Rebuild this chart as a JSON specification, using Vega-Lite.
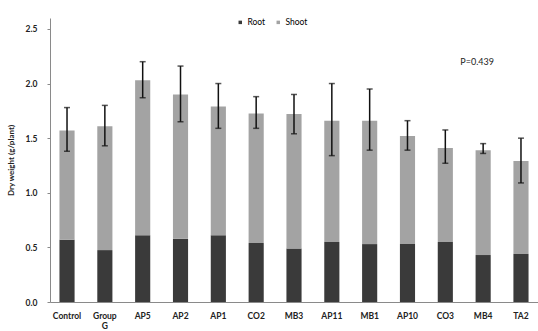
{
  "$schema": "https://vega.github.io/schema/vega-lite/v6.json",
  "autosize": {"type": "none"},
  "padding": {"left": 50, "top": 18, "right": 0, "bottom": 29},
  "width": 488,
  "height": 284,
  "background": "white",
  "config": {
    "font": "Lato",
    "view": {"stroke": null},
    "axis": {"grid": false, "domainColor": "#8a8a8a", "tickColor": "#8a8a8a", "labelColor": "#222", "titleColor": "#222", "labelFont": "Lato", "titleFont": "Lato"}
  },
  "datasets": {
    "parts": [
      {"cat": "Control", "part": "Root", "value": 0.57},
      {"cat": "Control", "part": "Shoot", "value": 1.0},
      {"cat": "Group G", "part": "Root", "value": 0.475},
      {"cat": "Group G", "part": "Shoot", "value": 1.135},
      {"cat": "AP5", "part": "Root", "value": 0.61},
      {"cat": "AP5", "part": "Shoot", "value": 1.42},
      {"cat": "AP2", "part": "Root", "value": 0.58},
      {"cat": "AP2", "part": "Shoot", "value": 1.32},
      {"cat": "AP1", "part": "Root", "value": 0.61},
      {"cat": "AP1", "part": "Shoot", "value": 1.18},
      {"cat": "CO2", "part": "Root", "value": 0.54},
      {"cat": "CO2", "part": "Shoot", "value": 1.185},
      {"cat": "MB3", "part": "Root", "value": 0.49},
      {"cat": "MB3", "part": "Shoot", "value": 1.23},
      {"cat": "AP11", "part": "Root", "value": 0.55},
      {"cat": "AP11", "part": "Shoot", "value": 1.11},
      {"cat": "MB1", "part": "Root", "value": 0.53},
      {"cat": "MB1", "part": "Shoot", "value": 1.13},
      {"cat": "AP10", "part": "Root", "value": 0.53},
      {"cat": "AP10", "part": "Shoot", "value": 0.99},
      {"cat": "CO3", "part": "Root", "value": 0.55},
      {"cat": "CO3", "part": "Shoot", "value": 0.86},
      {"cat": "MB4", "part": "Root", "value": 0.43},
      {"cat": "MB4", "part": "Shoot", "value": 0.96},
      {"cat": "TA2", "part": "Root", "value": 0.44},
      {"cat": "TA2", "part": "Shoot", "value": 0.85}
    ],
    "err": [
      {"cat": "Control", "lo": 1.38, "hi": 1.78},
      {"cat": "Group G", "lo": 1.43, "hi": 1.8},
      {"cat": "AP5", "lo": 1.87, "hi": 2.2},
      {"cat": "AP2", "lo": 1.65, "hi": 2.16},
      {"cat": "AP1", "lo": 1.59, "hi": 2.0},
      {"cat": "CO2", "lo": 1.59, "hi": 1.88},
      {"cat": "MB3", "lo": 1.54, "hi": 1.9},
      {"cat": "AP11", "lo": 1.34, "hi": 2.0},
      {"cat": "MB1", "lo": 1.39, "hi": 1.95},
      {"cat": "AP10", "lo": 1.39, "hi": 1.66},
      {"cat": "CO3", "lo": 1.27, "hi": 1.575},
      {"cat": "MB4", "lo": 1.36, "hi": 1.45},
      {"cat": "TA2", "lo": 1.09, "hi": 1.5}
    ],
    "note": [
      {"cat": "MB4", "y": 2.2, "label": "P=0.439"}
    ]
  },
  "encoding": {
    "x": {
      "field": "cat", "type": "nominal",
      "sort": ["Control", "Group G", "AP5", "AP2", "AP1", "CO2", "MB3", "AP11", "MB1", "AP10", "CO3", "MB4", "TA2"],
      "scale": {"paddingInner": 0.6, "paddingOuter": 0.25},
      "axis": {"title": null, "labelAngle": 0, "ticks": false, "labelPadding": 9, "labelFontSize": 8.5, "labelFontWeight": "bold",
        "labelExpr": "datum.label == 'Group G' ? ['Group', 'G'] : datum.label", "labelLineHeight": 10}
    }
  },
  "layer": [
    {
      "data": {"name": "parts"},
      "mark": {"type": "bar"},
      "encoding": {
        "y": {"field": "value", "type": "quantitative", "stack": "zero",
          "scale": {"domain": [0, 2.5]},
          "axis": {"title": "Dry weight (g/plant)", "values": [0, 0.5, 1, 1.5, 2, 2.5], "format": ".1f", "labelFontSize": 8.5, "labelFontWeight": "bold", "labelPadding": 10, "tickSize": 3, "titleFontSize": 8, "titlePadding": 10}},
        "color": {"field": "part", "type": "nominal",
          "scale": {"domain": ["Root", "Shoot"], "range": ["#3a3a3a", "#a3a3a3"]},
          "legend": {"title": null, "orient": "none", "legendX": 186, "legendY": 0, "direction": "horizontal", "symbolType": "square", "symbolSize": 12, "labelFontSize": 8.5, "columnPadding": 8, "symbolStrokeWidth": 0, "labelOffset": 3}},
        "order": {"field": "part", "sort": "ascending"}
      }
    },
    {
      "data": {"name": "err"},
      "mark": {"type": "rule", "color": "#111", "strokeWidth": 1.5},
      "encoding": {
        "y": {"field": "lo", "type": "quantitative"},
        "y2": {"field": "hi"}
      }
    },
    {
      "data": {"name": "err"},
      "mark": {"type": "tick", "color": "#111", "size": 6, "thickness": 1.5, "orient": "horizontal"},
      "encoding": {"y": {"field": "lo", "type": "quantitative"}}
    },
    {
      "data": {"name": "err"},
      "mark": {"type": "tick", "color": "#111", "size": 6, "thickness": 1.5, "orient": "horizontal"},
      "encoding": {"y": {"field": "hi", "type": "quantitative"}}
    },
    {
      "data": {"name": "note"},
      "mark": {"type": "text", "fontSize": 9, "color": "#222", "dx": -6},
      "encoding": {
        "y": {"field": "y", "type": "quantitative"},
        "text": {"field": "label"}
      }
    }
  ]
}
